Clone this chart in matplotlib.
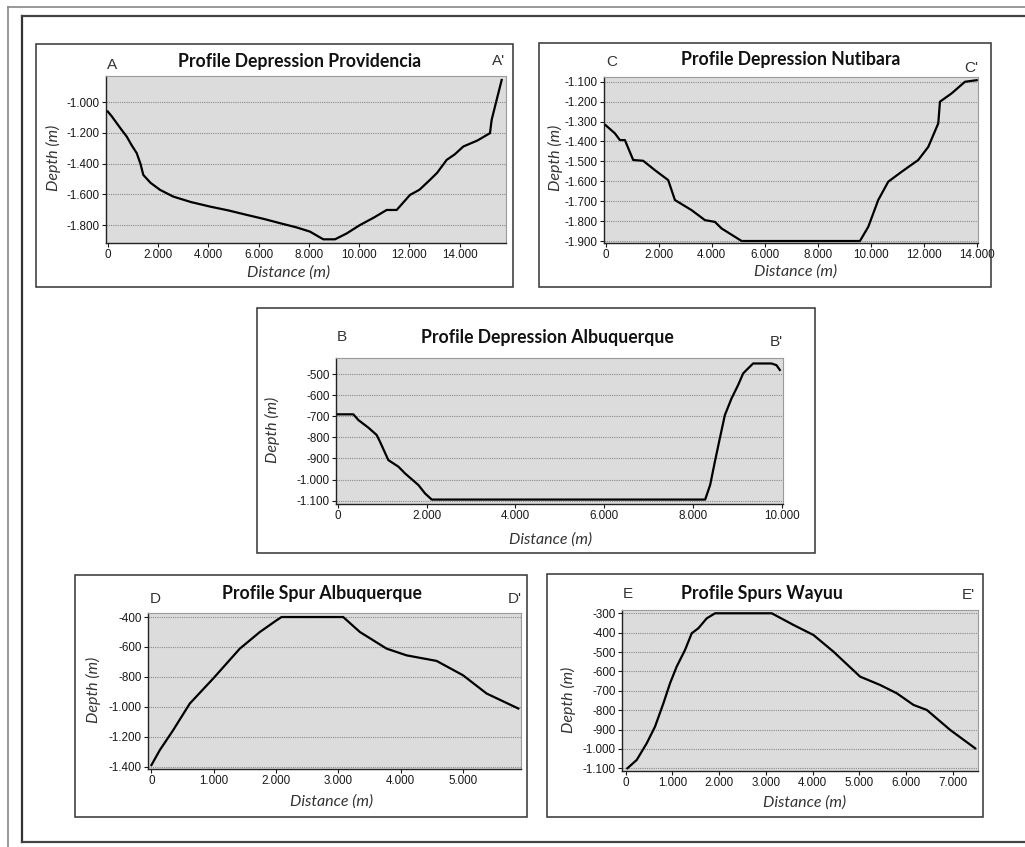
import matplotlib
matplotlib.use("Agg")
import matplotlib.pyplot as plt
from matplotlib.lines import Line2D
from matplotlib.patches import Rectangle
from matplotlib.ticker import FuncFormatter

W, H = 1025, 847

# --- profile data (distance m, depth m) ---
dist_a = [0, 150, 358, 550, 755, 950, 1153, 1300, 1416, 1700, 2080, 2608, 3300, 4068,
          4800, 5527, 6200, 6851, 7500, 8044, 8573, 9038, 9500, 10032, 10600, 11093,
          11491, 12020, 12400, 12815, 13100, 13479, 13800, 14139, 14700, 15201, 15268,
          15467, 15666]
depth_a = [-1061, -1090, -1137, -1180, -1224, -1280, -1332, -1400, -1474, -1525, -1571,
           -1615, -1650, -1680, -1705, -1734, -1760, -1788, -1815, -1843, -1893, -1893,
           -1855, -1800, -1750, -1702, -1702, -1604, -1570, -1506, -1460, -1376, -1340,
           -1289, -1250, -1202, -1115, -985, -856]

dist_c = [0, 351, 540, 728, 1042, 1419, 1860, 2362, 2615, 3245, 3747, 4125, 4377, 5132,
          9596, 9909, 10287, 10664, 11170, 11796, 12174, 12551, 12615, 13057, 13558, 14000]
depth_c = [-1318, -1359, -1393, -1393, -1493, -1497, -1544, -1594, -1694, -1745, -1795,
           -1804, -1837, -1900, -1900, -1829, -1694, -1602, -1552, -1493, -1427, -1309,
           -1200, -1158, -1100, -1092]

dist_b = [0, 346, 459, 684, 872, 947, 1135, 1361, 1511, 1812, 1962, 2113, 8275, 8388,
          8494, 8606, 8719, 8869, 9019, 9132, 9207, 9357, 9771, 9883, 9959]
depth_b = [-691, -691, -718, -754, -789, -821, -908, -939, -971, -1026, -1066, -1095,
           -1095, -1026, -916, -805, -695, -616, -552, -497, -481, -450, -450, -458, -481]

dist_d = [0, 134, 348, 615, 990, 1418, 1739, 2006, 2087, 3076, 3344, 3772, 4093, 4574,
          4998, 5377, 5885]
depth_d = [-1389, -1289, -1156, -978, -811, -611, -500, -422, -400, -400, -500, -611,
           -656, -693, -789, -911, -1011]

dist_e = [36, 236, 450, 628, 807, 950, 1092, 1271, 1414, 1557, 1735, 1914, 3127, 3591,
          4020, 4448, 5019, 5448, 5805, 6162, 6447, 6947, 7483]
depth_e = [-1100, -1057, -971, -885, -765, -661, -575, -489, -403, -377, -326, -300,
           -300, -360, -412, -498, -627, -670, -713, -773, -799, -902, -997]

titles = ["Profile Depression Providencia", "Profile Depression Nutibara",
          "Profile Depression Albuquerque", "Profile Spur Albuquerque",
          "Profile Spurs Wayuu"]
ends = [("A", "A'"), ("C", "C'"), ("B", "B'"), ("D", "D'"), ("E", "E'")]
xticks = [range(0, 14001, 2000), range(0, 14001, 2000), range(0, 10001, 2000),
          range(0, 5001, 1000), range(0, 7001, 1000)]
yticks = [range(-1800, -999, 200), range(-1900, -1099, 100), range(-1100, -499, 100),
          range(-1400, -399, 200), range(-1100, -299, 100)]


def fx(x):
    return x / W


def fy(y):
    return 1 - y / H


def thousands(v, pos=None):
    return f"{v:,.0f}".replace(",", ".")


# layout in pixels: box, plot area, limits, title, letters, labels
panels = [
    dict(box=(36, 44, 513, 287), ax=(106, 76, 506, 243),
         xlim=(-68, 15838), ylim=(-1917, -830),
         title=(300, 61), l=(107, 65), r=(505, 61), yl=(53, 158), xl=(289, 273)),
    dict(box=(539, 43, 991, 287), ax=(604, 77, 978, 243),
         xlim=(-60, 14050), ylim=(-1910, -1076),
         title=(791, 60), l=(606, 62), r=(978, 68), yl=(555, 158), xl=(796, 272)),
    dict(box=(257, 308, 815, 553), ax=(336, 358, 783, 504),
         xlim=(-45, 10030), ylim=(-1116, -424),
         title=(547, 338), l=(337, 337), r=(783, 342), yl=(272, 430), xl=(551, 540)),
    dict(box=(75, 575, 527, 817), ax=(148, 613, 521, 769),
         xlim=(-55, 5928), ylim=(-1415, -373),
         title=(322, 593), l=(150, 599), r=(522, 599), yl=(93, 690), xl=(332, 802)),
    dict(box=(547, 574, 983, 817), ax=(622, 610, 978, 771),
         xlim=(-79, 7543), ylim=(-1114, -283),
         title=(762, 593), l=(623, 594), r=(975, 595), yl=(568, 700), xl=(805, 803)),
]
series = [(dist_a, depth_a), (dist_c, depth_c), (dist_b, depth_b),
          (dist_d, depth_d), (dist_e, depth_e)]

fig = plt.figure(figsize=(W / 100, H / 100), dpi=100)
fig.patch.set_facecolor("white")

# outer page frames
fig.add_artist(Line2D([fx(8), fx(8)], [fy(7), fy(847)], color="#888888", lw=1.2))
fig.add_artist(Line2D([fx(8), fx(1025)], [fy(7), fy(7)], color="#888888", lw=1.2))
fig.add_artist(Line2D([fx(22), fx(22)], [fy(16), fy(842)], color="#333333", lw=1.6))
fig.add_artist(Line2D([fx(22), fx(1025)], [fy(16), fy(16)], color="#444444", lw=1.6))
fig.add_artist(Line2D([fx(22), fx(1025)], [fy(842), fy(842)], color="#444444", lw=1.6))

for i, p in enumerate(panels):
    x0, y0, x1, y1 = p["box"]
    fig.add_artist(Rectangle((fx(x0), fy(y1)), fx(x1 - x0), (y1 - y0) / H,
                             fill=False, edgecolor="#333333", lw=1.1,
                             transform=fig.transFigure))
    a0, b0, a1, b1 = p["ax"]
    ax = fig.add_axes([fx(a0), fy(b1), fx(a1 - a0), (b1 - b0) / H])
    ax.set_facecolor("#dcdcdc")
    d, z = series[i]
    ax.plot(d, z, color="black", lw=1.6, zorder=3)
    ax.set_xlim(*p["xlim"])
    ax.set_ylim(*p["ylim"])
    ax.set_xticks(list(xticks[i]))
    ax.set_yticks(list(yticks[i]))
    ax.xaxis.set_major_formatter(FuncFormatter(thousands))
    ax.yaxis.set_major_formatter(FuncFormatter(thousands))
    ax.grid(axis="y", linestyle=(0, (1, 1)), color="#8a8a8a", lw=0.8)
    ax.set_axisbelow(True)
    for s in ("top", "right"):
        ax.spines[s].set_color("#9a9a9a")
        ax.spines[s].set_linewidth(0.8)
    for s in ("left", "bottom"):
        ax.spines[s].set_color("#222222")
        ax.spines[s].set_linewidth(1.0)
    ax.tick_params(length=3, width=0.8, pad=1.5, colors="#1a1a1a")
    for lab in ax.get_xticklabels() + ax.get_yticklabels():
        lab.set_fontfamily("Liberation Sans")
        lab.set_fontsize(8.4)

    tx, ty = p["title"]
    fig.text(fx(tx), fy(ty), titles[i], ha="center", va="center",
             family="Lato", weight="bold", size=12.7, color="#111111")
    lx, ly = p["l"]
    fig.text(fx(lx), fy(ly), ends[i][0], ha="left", va="center",
             family="Liberation Sans", size=11, color="#333333")
    rx, ry = p["r"]
    fig.text(fx(rx), fy(ry), ends[i][1], ha="right", va="center",
             family="Liberation Sans", size=11, color="#333333")
    yx, yy = p["yl"]
    fig.text(fx(yx), fy(yy), "Depth (m)", ha="center", va="center", rotation=90,
             family="Lato", style="italic", size=11.5, color="#333333")
    xx, xy = p["xl"]
    fig.text(fx(xx), fy(xy), "Distance (m)", ha="center", va="center",
             family="Lato", style="italic", size=11.5, color="#333333")

fig.savefig("out.png", dpi=100)
